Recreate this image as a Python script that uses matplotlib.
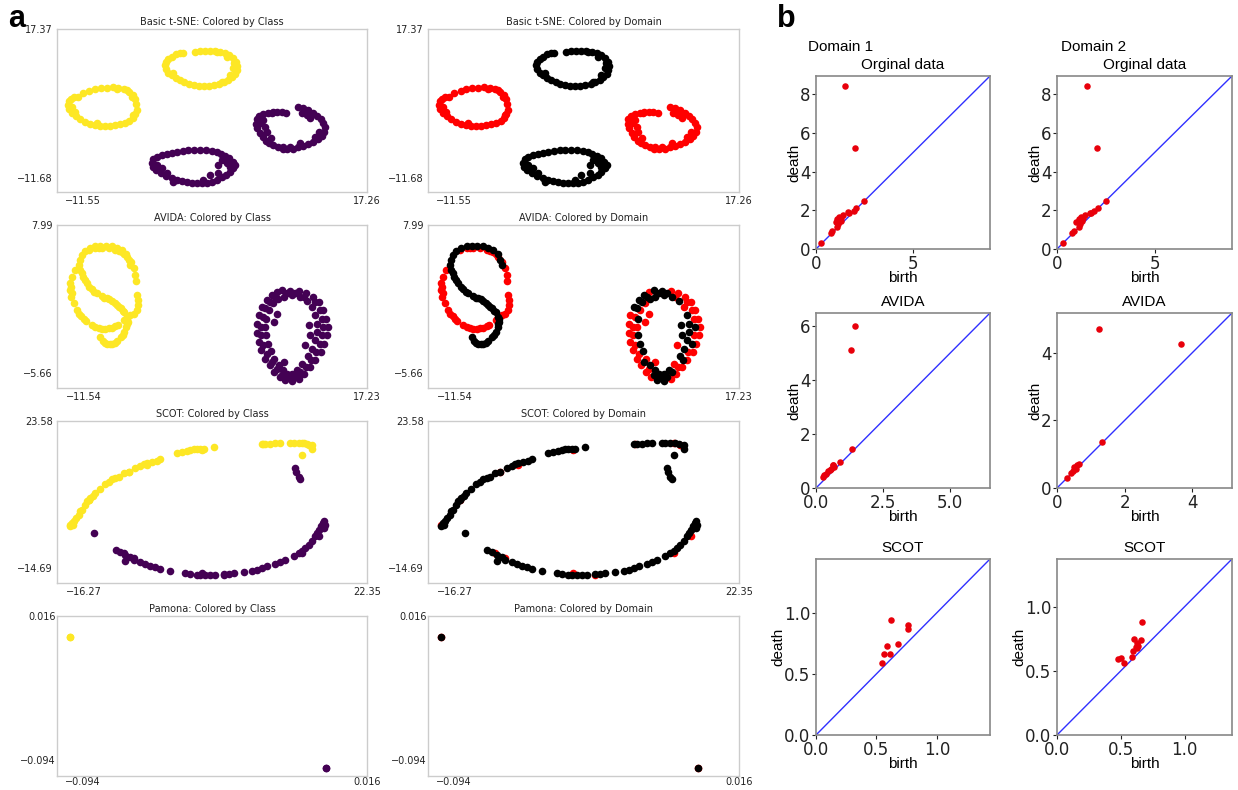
import numpy as np
import matplotlib.pyplot as plt

YELLOW = "#fde725"
PURPLE = "#440154"
W, H = 1238, 790

# ---- Basic t-SNE embedding (d1 = domain 1, d2 = domain 2) ----
tsne_yellow_d1 = [(-12.03, 4.18), (-11.52, 4.83), (-10.91, 5.29), (-10.34, 5.61), (-9.76, 5.81), (-9.15, 5.94),
                  (-8.55, 6.00), (-7.97, 5.87), (-7.40, 5.61), (-6.89, 5.16), (-6.52, 4.51), (-6.28, 3.66),
                  (-6.18, 2.75), (-6.11, 1.58), (-6.28, 0.80), (-6.52, -0.05), (-6.86, -0.50), (-7.30, -0.89),
                  (-7.80, -1.15), (-8.31, -1.35), (-8.82, -1.48), (-9.32, -1.54), (-9.83, -1.48), (-10.34, -1.35),
                  (-10.84, -1.09), (-11.35, -0.69), (-11.86, -0.17), (-12.26, 0.41), (-12.64, 1.06), (-12.94, 1.84),
                  (-13.08, 2.62), (-13.01, 3.40), (-12.77, 3.79), (-12.43, 4.05), (-12.70, 2.23), (-12.37, 1.25),
                  (-6.62, 4.18), (-6.45, 0.61), (-10.17, -1.02), (-8.14, 5.61), (-7.13, 5.48)]
tsne_yellow_d2 = [(-0.20, 12.95), (0.31, 13.09), (0.82, 13.15), (1.32, 13.15), (1.83, 13.09), (2.34, 12.89),
                  (2.85, 12.63), (3.28, 12.24), (3.69, 11.66), (3.96, 11.01), (4.10, 10.22), (4.03, 9.38),
                  (3.86, 8.60), (3.52, 7.95), (3.18, 7.43), (2.74, 7.04), (2.27, 6.65), (1.73, 6.39),
                  (1.22, 6.26), (0.72, 6.20), (0.21, 6.26), (-0.30, 6.46), (-0.81, 6.65), (-1.28, 7.04),
                  (-1.72, 7.43), (-2.16, 7.88), (-2.56, 8.34), (-2.90, 8.86), (-3.17, 9.51), (-3.27, 10.29),
                  (-3.17, 11.01), (-2.90, 11.59), (-2.56, 11.98), (-2.16, 12.44), (-1.72, 12.63), (-1.45, 12.76),
                  (3.79, 10.68), (3.69, 9.71), (3.35, 8.41), (2.51, 7.10), (3.01, 11.98), (2.00, 12.83), (-2.39, 8.73)]
tsne_purple_d1 = [(10.28, 2.10), (10.79, 1.90), (11.30, 1.58), (11.80, 1.06), (12.21, 0.41), (12.55, -0.24),
                  (12.82, -0.89), (12.99, -1.67), (12.88, -2.65), (12.65, -3.49), (12.31, -4.14), (11.80, -4.60),
                  (11.30, -5.05), (10.79, -5.44), (10.28, -5.70), (9.77, -5.96), (9.17, -6.09), (8.69, -5.96),
                  (8.25, -5.57), (7.75, -5.31), (7.34, -4.92), (7.00, -4.40), (6.66, -3.62), (6.39, -2.84),
                  (6.12, -1.99), (5.99, -1.15), (6.06, -0.24), (6.33, 0.41), (6.73, 0.80), (7.24, 1.06),
                  (7.68, 1.26), (8.15, 1.19), (8.59, 1.13), (9.03, 0.93), (10.62, 0.93), (11.13, 0.61),
                  (11.46, -0.05), (6.46, -1.02), (6.90, -1.67), (7.07, -2.65), (7.48, -3.95), (8.76, -5.57),
                  (9.44, -5.57), (10.45, -4.92), (11.97, -3.62), (12.41, -2.65), (7.58, 0.93), (6.73, -0.37)]
tsne_purple_d2 = [(-3.07, -6.99), (-2.56, -6.74), (-2.06, -6.55), (-1.45, -6.35), (-0.87, -6.22), (-0.30, -6.16),
                  (0.31, -6.16), (0.92, -6.22), (1.49, -6.35), (2.00, -6.61), (2.41, -6.99), (2.85, -7.39),
                  (3.28, -7.85), (3.62, -8.50), (3.86, -9.15), (3.69, -9.80), (3.35, -10.45), (2.95, -11.10),
                  (2.51, -11.55), (2.00, -12.07), (1.49, -12.40), (0.99, -12.59), (0.48, -12.72), (-0.03, -12.72),
                  (-0.54, -12.59), (-1.04, -12.46), (-1.55, -12.27), (-2.06, -12.07), (-2.56, -11.75), (-3.14, -11.29),
                  (-3.68, -10.77), (-4.15, -10.12), (-4.49, -9.47), (-4.59, -8.69), (-4.42, -8.04), (-4.08, -7.52),
                  (-3.58, -7.26), (2.51, -8.17), (3.01, -8.82), (2.17, -9.15), (-4.08, -9.15), (-3.58, -9.80),
                  (0.65, -12.07), (1.32, -11.10), (2.17, -10.77), (-3.07, -10.77), (-2.39, -12.40), (3.35, -9.47)]

# ---- AVIDA embedding ----
avida_yellow_d1 = [(-11.03, 5.68), (-10.35, 5.83), (-9.68, 5.89), (-9.00, 5.83), (-8.32, 5.68), (-7.64, 5.46),
                   (-7.14, 5.06), (-6.73, 4.60), (-6.46, 4.04), (-6.29, 3.37), (-6.22, 2.81),
                   (-12.38, 3.83), (-12.72, 3.21), (-12.89, 2.60), (-12.89, 1.98), (-12.79, 1.36), (-12.55, 0.75),
                   (-12.21, 0.13), (-11.77, -0.39), (-11.27, -0.88), (-10.69, -1.26), (-10.01, -1.50), (-9.34, -1.56),
                   (-8.66, -1.47), (-8.08, -1.26),
                   (-6.12, 1.52), (-6.02, 1.06), (-6.02, 0.59), (-6.12, 0.13), (-6.46, -0.18), (-6.80, -0.33),
                   (-7.14, -0.48), (-7.41, -0.79),
                   (-12.82, 2.29), (-12.69, 1.67), (-12.01, -0.18), (-11.54, -0.64), (-10.35, -1.41), (-9.68, -1.56),
                   (-9.00, -1.53), (-8.32, -1.35), (-10.01, 5.86), (-7.98, 5.58), (-7.41, 5.28)]
avida_yellow_d2 = [(-11.71, 5.21), (-11.37, 5.58), (-10.86, 5.89), (-10.35, 6.05), (-9.84, 6.08), (-9.24, 6.08),
                   (-8.66, 6.02), (-8.15, 5.89), (-7.64, 5.68), (-7.20, 5.28), (-6.97, 4.75), (-6.80, 4.29),
                   (-11.94, 4.75), (-12.05, 4.29),
                   (-11.88, 3.83), (-11.61, 3.21), (-11.20, 2.60), (-10.69, 2.04), (-10.18, 1.67), (-9.68, 1.42),
                   (-9.17, 1.21), (-8.66, 0.96), (-8.15, 0.65), (-7.75, 0.29), (-7.41, -0.08), (-7.14, -0.48),
                   (-7.07, -0.95), (-7.20, -1.41), (-7.41, -1.87), (-7.75, -2.33), (-8.15, -2.73), (-8.66, -2.95),
                   (-9.17, -2.95), (-9.57, -2.73), (-9.84, -2.33),
                   (-11.74, 3.52), (-11.40, 2.90), (-10.96, 2.29), (-10.45, 1.83), (-9.44, 1.30), (-8.93, 1.12),
                   (-8.39, 0.81), (-7.95, 0.47), (-7.58, 0.10), (-7.10, -0.70), (-7.14, -1.19), (-7.58, -2.12),
                   (-8.39, -2.86), (-8.90, -2.98), (-9.37, -2.89)]
avida_purple_d1 = [(10.30, 1.89), (11.07, 1.67), (11.75, 1.36), (12.33, 0.84), (12.77, 0.13), (13.11, -0.64),
                   (13.24, -1.41), (13.17, -2.18), (12.90, -2.95), (12.56, -3.72), (11.99, -4.49), (11.48, -5.11),
                   (10.87, -5.72), (10.30, -6.19), (8.37, -6.03), (7.82, -5.57), (7.35, -4.95), (6.91, -4.34),
                   (6.50, -3.57), (6.23, -2.80), (6.06, -1.93), (6.06, -1.10), (6.23, -0.33), (8.10, 1.83),
                   (11.65, 0.44), (10.63, -4.80), (7.82, -4.34), (6.91, -1.41), (7.25, 0.13), (7.69, 0.75),
                   (8.10, -0.18), (7.76, -0.95), (10.97, -3.10), (8.77, -4.65), (10.47, -5.88),
                   (10.80, 1.36), (11.99, 0.84), (12.43, 0.13), (12.67, -0.64), (12.67, -2.18), (12.09, -3.72),
                   (11.07, -5.11), (8.10, -5.26), (7.08, -3.87), (6.67, -3.10), (6.50, -2.18), (6.50, -1.41),
                   (6.67, -0.49)]
avida_purple_d2 = [(8.60, 1.98), (9.45, 1.89), (9.62, -6.37), (8.94, -6.34), (6.57, 0.44), (7.08, 1.06), (7.59, 1.52),
                   (8.77, 1.36), (9.62, 1.52), (10.47, 1.36), (11.14, 0.96), (11.99, -0.33), (12.16, -1.10),
                   (12.16, -1.87), (11.99, -2.64), (11.65, -3.41), (11.21, -4.09), (10.13, -5.41), (9.62, -5.72),
                   (9.11, -5.72), (8.70, -5.41), (8.26, -4.95), (7.49, -3.66), (7.18, -2.95), (6.98, -2.18),
                   (7.01, -0.64), (8.20, 1.15),
                   (11.31, -1.26), (11.48, -2.18), (9.45, -6.03), (9.96, -6.03),
                   (9.11, 1.67), (9.96, 1.67), (12.77, -1.41), (12.43, -2.95), (11.55, -4.49), (10.47, -5.57),
                   (8.60, -5.88), (7.59, -4.65), (6.91, 0.29), (7.42, 0.90), (7.93, 1.36)]

# ---- SCOT embedding ----
scot_yellow_d1 = [(-18.09, -3.43), (-15.59, 3.06), (-10.14, 10.42), (-7.64, 12.15), (-0.14, 16.05),
                  (8.20, 17.70), (13.49, 17.78), (14.40, 17.34)]
scot_yellow_d2 = [(-18.09, -3.87), (-17.86, -3.00), (-17.72, -3.43), (-17.54, -2.57), (-17.27, -1.70), (-16.95, -0.84),
                  (-16.72, 0.03), (-16.50, 0.46), (-16.04, 1.76), (-15.82, 2.63), (-15.59, 3.06), (-15.36, 3.49),
                  (-15.00, 4.10), (-14.68, 4.79), (-14.00, 5.83), (-13.32, 7.13), (-12.86, 7.82), (-12.41, 8.43),
                  (-11.95, 8.69), (-11.50, 9.12), (-10.82, 9.98), (-10.14, 10.42), (-9.23, 11.28), (-8.55, 11.89),
                  (-8.09, 12.41), (-7.64, 12.76), (-6.96, 13.01), (-6.27, 13.27), (-5.82, 13.71), (-3.55, 15.18),
                  (-2.87, 15.44), (-2.18, 15.79), (-1.73, 16.05), (-1.27, 16.22), (-0.82, 16.39), (-0.37, 16.31),
                  (0.09, 16.22), (1.45, 16.74), (8.04, 17.60), (8.49, 17.60), (9.18, 17.69), (9.86, 17.78),
                  (10.54, 17.78), (11.90, 17.95), (12.36, 17.95), (13.04, 17.95), (13.72, 17.78), (14.17, 17.60),
                  (14.86, 17.34), (14.86, 16.22), (13.49, 14.75)]
scot_purple_d1 = [(-10.82, -10.80), (-9.45, -12.10), (-0.14, -15.99), (2.81, -16.45), (15.77, -6.47),
                  (13.49, -10.80)]
scot_purple_d2 = [(12.58, 11.28), (12.72, 10.42), (13.04, 8.95), (13.18, 8.43), (-14.91, -5.60),
                  (-11.82, -9.93), (-11.27, -10.62), (-10.59, -11.23), (-9.91, -11.83), (-9.45, -12.53), (-8.55, -13.22),
                  (-7.86, -13.57), (-7.18, -14.08), (-6.50, -14.43), (-5.82, -14.95), (-4.46, -15.38), (-2.41, -15.99),
                  (-1.73, -16.16), (-0.82, -16.42), (-0.37, -16.59), (0.32, -16.51), (1.00, -16.42), (1.68, -16.59),
                  (2.81, -16.25), (3.50, -16.16), (4.18, -15.99), (5.54, -15.73), (6.68, -15.38), (7.36, -15.12),
                  (8.04, -14.69), (8.72, -14.26), (9.86, -13.57), (10.54, -13.22), (11.22, -12.70), (12.36, -11.66),
                  (13.04, -10.80), (13.49, -10.36), (13.95, -9.50), (14.40, -8.63), (14.86, -7.76), (15.31, -6.47),
                  (15.54, -5.60), (15.77, -4.73), (16.08, -3.87), (16.36, -3.00), (16.54, -2.57), (16.67, -3.43),
                  (16.45, -4.30), (-10.59, -12.96)]

# ---- Pamona embedding (all samples collapse onto two spots) ----
pamona_yellow_d1 = [(-0.0990, 0.0003)]
pamona_yellow_d2 = [(-0.0990, 0.0003)]
pamona_purple_d1 = [(0.0000, -0.1000)]
pamona_purple_d2 = [(0.0000, -0.1000)]

# ---- persistence diagrams (birth, death) ----
orig_d1_birth = [1.49, 2.01, 2.48, 2.05, 1.96, 1.70, 1.41, 1.18, 1.09, 1.27, 1.01, 1.15, 1.09, 0.83, 0.75, 0.28, 1.30, 1.67]
orig_d1_death = [8.45, 5.25, 2.49, 2.10, 1.97, 1.84, 1.76, 1.65, 1.53, 1.44, 1.41, 1.30, 1.13, 0.92, 0.83, 0.31, 1.58, 1.90]
orig_d2_birth = [1.51, 2.03, 2.52, 2.08, 1.91, 1.74, 1.44, 1.22, 1.13, 1.30, 0.99, 1.16, 1.13, 0.87, 0.75, 0.31, 1.33, 1.70]
orig_d2_death = [8.45, 5.25, 2.49, 2.10, 1.97, 1.84, 1.76, 1.65, 1.53, 1.44, 1.41, 1.30, 1.13, 0.92, 0.83, 0.31, 1.60, 1.88]
avida_d1_birth = [1.44, 1.32, 1.35, 0.89, 0.62, 0.68, 0.55, 0.46, 0.37, 0.31, 0.27, 0.53, 0.64]
avida_d1_death = [6.03, 5.12, 1.45, 0.96, 0.84, 0.77, 0.71, 0.62, 0.53, 0.47, 0.39, 0.65, 0.87]
avida_d2_birth = [1.24, 3.66, 1.32, 0.29, 0.41, 0.46, 0.51, 0.59, 0.65, 0.56]
avida_d2_death = [4.71, 4.27, 1.35, 0.29, 0.44, 0.49, 0.62, 0.67, 0.70, 0.57]
scot_d1_birth = [0.617, 0.760, 0.760, 0.679, 0.588, 0.563, 0.612, 0.550]
scot_d1_death = [0.941, 0.900, 0.865, 0.746, 0.732, 0.665, 0.659, 0.589]
scot_d2_birth = [0.667, 0.603, 0.654, 0.623, 0.615, 0.628, 0.595, 0.590, 0.526, 0.474, 0.500, 0.633]
scot_d2_death = [0.876, 0.751, 0.736, 0.720, 0.684, 0.681, 0.655, 0.611, 0.557, 0.591, 0.596, 0.694]

SANS = ["Liberation Sans", "DejaVu Sans"]


def px_axes(fig, left, top, right, bottom):
    return fig.add_axes([left / W, 1 - bottom / H, (right - left) / W, (bottom - top) / H])


def fmt(v, nd):
    s = f"{abs(v):.{nd}f}"
    return ("\u2212" + s) if v < 0 else s


def style_embed(ax, title, xlim, ylim, xt, yt, nd, pad):
    ax.set_xlim(xlim)
    ax.set_ylim(ylim)
    ax.set_xticks(xt)
    ax.set_yticks(yt)
    ax.set_xticklabels([fmt(v, nd) for v in xt])
    ax.set_yticklabels([fmt(v, nd) for v in yt])
    ax.tick_params(length=0, labelsize=7, pad=pad, colors="#222222")
    for sp in ax.spines.values():
        sp.set_color("#cccccc")
        sp.set_linewidth(1)
    ax.set_title(title, fontsize=7, pad=3, color="#222222")


def scat(ax, pts, color, s=30):
    arr = np.array(pts)
    ax.scatter(arr[:, 0], arr[:, 1], s=s, color=color, linewidths=0)


def draw_embedding(ax_c, ax_d, name, y1, y2, p1, p2, xlim, ylim, xt, yt, nd=2, pad=3):
    for pts, c in [(y1, YELLOW), (y2, YELLOW), (p1, PURPLE), (p2, PURPLE)]:
        scat(ax_c, pts, c)
    for pts, c in [(y1, "red"), (p1, "red"), (y2, "black"), (p2, "black")]:
        scat(ax_d, pts, c)
    style_embed(ax_c, name + ": Colored by Class", xlim, ylim, xt, yt, nd, pad)
    style_embed(ax_d, name + ": Colored by Domain", xlim, ylim, xt, yt, nd, pad)


def draw_diagram(ax, birth, death, lim, xt, yt, title):
    ax.plot([0, lim], [0, lim], color="#3030ff", lw=1)
    ax.scatter(birth, death, s=22, color="#e8000b", linewidths=0, zorder=3)
    ax.set_xlim(0, lim)
    ax.set_ylim(0, lim)
    ax.set_xticks(xt)
    ax.set_yticks(yt)
    ax.tick_params(labelsize=12, length=3, pad=1, colors="#222222")
    ax.set_xlabel("birth", fontsize=11, labelpad=-1, family=SANS)
    ax.set_ylabel("death", fontsize=11, labelpad=-1, family=SANS)
    ax.set_title(title, fontsize=11, pad=5, family=SANS)
    for sp in ax.spines.values():
        sp.set_color("#888888")
        sp.set_linewidth(1.2)


fig = plt.figure(figsize=(W / 100, H / 100), dpi=100)

rows = [(29, 192), (225, 388), (421, 583), (616, 776)]
cols = [(57, 367), (428, 739)]
ax = [[px_axes(fig, c[0], r[0], c[1], r[1]) for c in cols] for r in rows]

draw_embedding(ax[0][0], ax[0][1], "Basic t-SNE", tsne_yellow_d1, tsne_yellow_d2, tsne_purple_d1, tsne_purple_d2,
               (-14.2, 17.26), (-14.4, 17.37), [-11.55, 17.26], [-11.68, 17.37])
draw_embedding(ax[1][0], ax[1][1], "AVIDA", avida_yellow_d1, avida_yellow_d2, avida_purple_d1, avida_purple_d2,
               (-14.25, 17.23), (-7.05, 7.99), [-11.54, 17.23], [-5.66, 7.99])
draw_embedding(ax[2][0], ax[2][1], "SCOT", scot_yellow_d1, scot_yellow_d2, scot_purple_d1, scot_purple_d2,
               (-19.9, 22.35), (-18.6, 23.58), [-16.27, 22.35], [-14.69, 23.58])
draw_embedding(ax[3][0], ax[3][1], "Pamona", pamona_yellow_d1, pamona_yellow_d2, pamona_purple_d1, pamona_purple_d2,
               (-0.104, 0.016), (-0.106, 0.016), [-0.094, 0.016], [-0.094, 0.016], nd=3, pad=1)

# right block: persistence diagrams
prow = [(76, 249), (313, 488), (559, 735)]
pcol = [(816, 990), (1057, 1232)]
pd = [[px_axes(fig, c[0], r[0], c[1], r[1]) for c in pcol] for r in prow]

draw_diagram(pd[0][0], orig_d1_birth, orig_d1_death, 8.95, [0, 5], [0, 2, 4, 6, 8], "Orginal data")
draw_diagram(pd[0][1], orig_d2_birth, orig_d2_death, 8.95, [0, 5], [0, 2, 4, 6, 8], "Orginal data")
draw_diagram(pd[1][0], avida_d1_birth, avida_d1_death, 6.5, [0, 2.5, 5.0], [0, 2, 4, 6], "AVIDA")
draw_diagram(pd[1][1], avida_d2_birth, avida_d2_death, 5.18, [0, 2, 4], [0, 2, 4], "AVIDA")
draw_diagram(pd[2][0], scot_d1_birth, scot_d1_death, 1.44, [0.0, 0.5, 1.0], [0.0, 0.5, 1.0], "SCOT")
draw_diagram(pd[2][1], scot_d2_birth, scot_d2_death, 1.37, [0.0, 0.5, 1.0], [0.0, 0.5, 1.0], "SCOT")

fig.text(808 / W, 1 - 51 / H, "Domain 1", fontsize=11, family=SANS)
fig.text(1061 / W, 1 - 51 / H, "Domain 2", fontsize=11, family=SANS)

fig.text(8 / W, 1 - 27 / H, "a", fontsize=22, fontweight="bold", family=SANS)
fig.text(777 / W, 1 - 27 / H, "b", fontsize=22, fontweight="bold", family=SANS)

fig.savefig("out.png", dpi=100)
